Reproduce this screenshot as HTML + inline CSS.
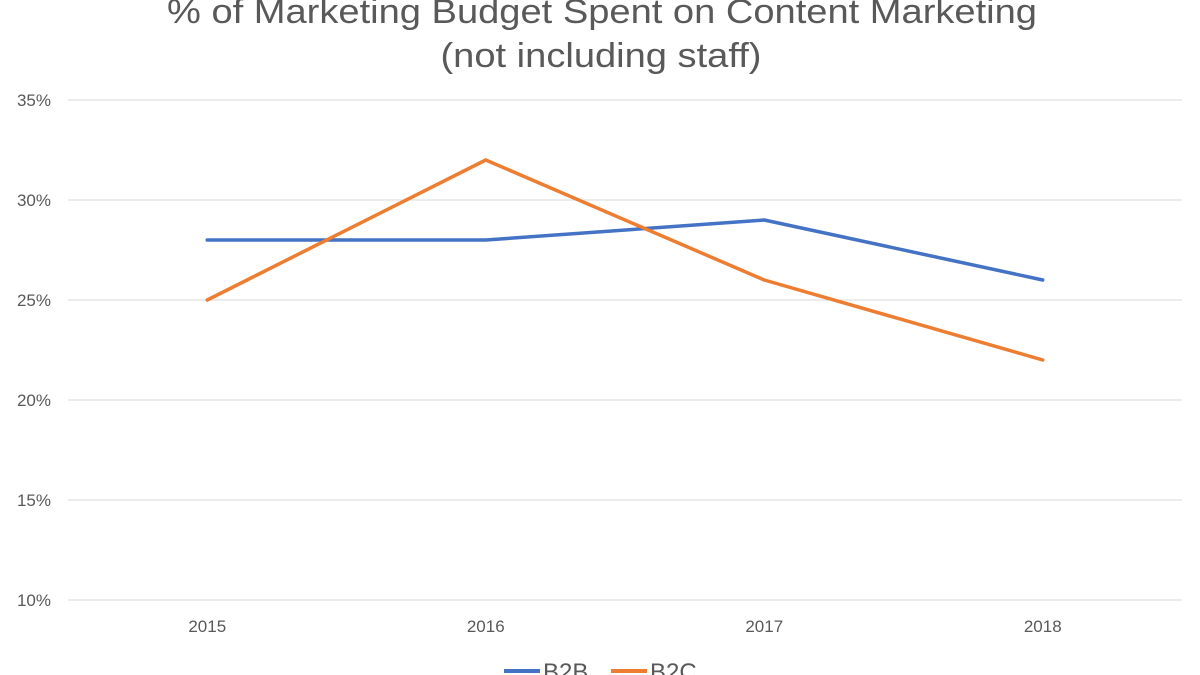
<!DOCTYPE html>
<html><head><meta charset="utf-8"><style>
body{margin:0;background:#fff;}
svg{display:block;font-family:"Liberation Sans",sans-serif;}
</style></head><body>
<svg id="chart" width="1200" height="675">
<text x="602" y="23" text-anchor="middle" font-size="34" fill="#595959" textLength="870" lengthAdjust="spacingAndGlyphs">% of Marketing Budget Spent on Content Marketing</text>
<text x="601" y="67" text-anchor="middle" font-size="34" fill="#595959" textLength="321" lengthAdjust="spacingAndGlyphs">(not including staff)</text>
<g id="grid"></g><g id="series"></g>
<g>
<line x1="504" y1="671" x2="540" y2="671" stroke="#4472C4" stroke-width="4"/>
<text x="543" y="680" font-size="24" fill="#595959">B2B</text>
<line x1="611" y1="671" x2="647" y2="671" stroke="#ED7D31" stroke-width="4"/>
<text x="650" y="680" font-size="24" fill="#595959">B2C</text>
</g>
</svg>
<script>
const categories=["2015","2016","2017","2018"];
const b2b=[28,28,29,26];
const b2c=[25,32,26,22];
const ticks=[10,15,20,25,30,35];
const NS="http://www.w3.org/2000/svg";
const L=68,R=1182,yMin=10,yMax=35,T=100,B=600;
const y=v=>B-(v-yMin)/(yMax-yMin)*(B-T);
const bw=(R-L)/categories.length;
const x=i=>L+bw*(i+0.5);
const grid=document.getElementById('grid'),ser=document.getElementById('series');
function mk(tag,attrs,parent){const e=document.createElementNS(NS,tag);for(const k in attrs)e.setAttribute(k,attrs[k]);parent.appendChild(e);return e;}
ticks.forEach(t=>{
 const l=mk('line',{x1:L,x2:R,y1:y(t),y2:y(t),stroke:'#d9d9d9','stroke-width':1},grid);
 
 
 const tx=mk('text',{x:51,y:y(t)+6,'text-anchor':'end','font-size':17,fill:'#595959'},grid);
 tx.textContent=t+'%';
 
 
});
categories.forEach((c,i)=>{
 const tx=mk('text',{x:x(i),y:632,'text-anchor':'middle','font-size':17,fill:'#595959'},grid);
 tx.textContent=c;
 
 
});
[[b2b,'#4472C4','b2b'],[b2c,'#ED7D31','b2c']].forEach(([d,col,n])=>{
 const p=mk('polyline',{points:d.map((v,i)=>x(i)+','+y(v)).join(' '),fill:'none',stroke:col,'stroke-width':3.5,'stroke-linejoin':'round','stroke-linecap':'round'},ser);
 
 
});
</script>
</body></html>
